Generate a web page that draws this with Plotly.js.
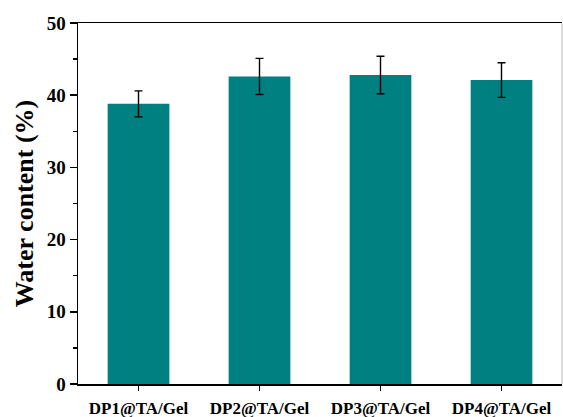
<!DOCTYPE html>
<html>
<head>
<meta charset="utf-8">
<script src="https://cdn.plot.ly/plotly-3.0.1.min.js"></script>
<style>
  html, body { margin: 0; padding: 0; background: #fff; }
  #chart { width: 563px; height: 417px; }
</style>
</head>
<body>
<div id="chart"></div>
<script>
// Water content of each gel formulation (mean ± error)
const categories = ['DP1@TA/Gel', 'DP2@TA/Gel', 'DP3@TA/Gel', 'DP4@TA/Gel'];
const waterContent = [38.8, 42.6, 42.8, 42.1];
const waterError = [1.8, 2.5, 2.6, 2.4];
const yTickValues = [0, 10, 20, 30, 40, 50];

const serif = 'Liberation Serif, Times New Roman, serif';

const trace = {
  type: 'bar',
  x: categories,
  y: waterContent,
  width: 0.51,
  marker: { color: '#008080' },
  error_y: {
    type: 'data',
    array: waterError,
    visible: true,
    color: '#000',
    thickness: 1.4,
    width: 4
  },
  hoverinfo: 'skip'
};

const layout = {
  width: 563,
  height: 417,
  margin: { l: 78, r: 1, t: 23, b: 33 },
  paper_bgcolor: '#fff',
  plot_bgcolor: '#fff',
  showlegend: false,
  font: { family: serif, color: '#000' },
  xaxis: {
    type: 'category',
    range: [-0.5, 3.5],
    showline: true,
    linecolor: '#000',
    linewidth: 1.5,
    mirror: true,
    ticks: 'outside',
    ticklen: 5,
    tickwidth: 1.5,
    tickcolor: '#000',
    ticklabelstandoff: 3,
    showgrid: false,
    zeroline: false,
    tickfont: { family: serif, size: 17, weight: 'bold', color: '#000' }
  },
  yaxis: {
    range: [0, 50],
    tickvals: yTickValues,
    ticktext: yTickValues.map(String),
    showline: true,
    linecolor: '#000',
    linewidth: 1.5,
    ticks: 'outside',
    ticklen: 7,
    tickwidth: 1.5,
    tickcolor: '#000',
    minor: { dtick: 5, ticks: 'outside', ticklen: 4, tickwidth: 1.5, tickcolor: '#000', showgrid: false },
    showgrid: false,
    zeroline: false,
    tickfont: { family: serif, size: 19, weight: 'bold', color: '#000' },
    title: {
      text: 'Water content (%)',
      font: { family: serif, size: 26, weight: 'bold', color: '#000' },
      standoff: 5
    }
  },
  shapes: [
    { type: 'line', xref: 'paper', yref: 'paper', x0: 1, x1: 1, y0: 0, y1: 1,
      line: { color: '#bbbbbb', width: 1 } }
  ]
};

Plotly.newPlot('chart', [trace], layout, { displayModeBar: false, staticPlot: true });
</script>
</body>
</html>
